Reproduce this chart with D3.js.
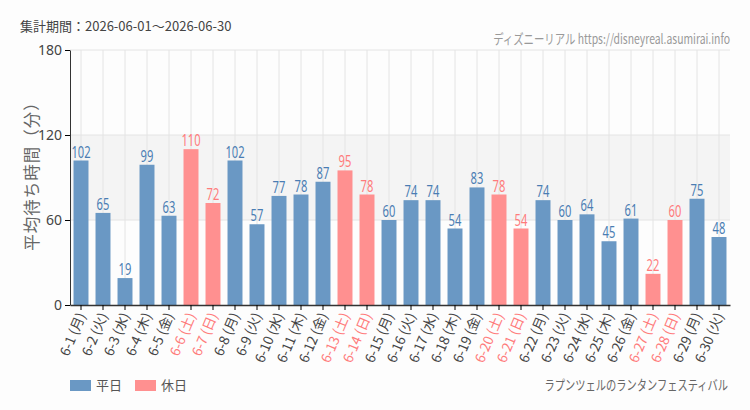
<!DOCTYPE html>
<html><head><meta charset="utf-8">
<script src="https://cdn.jsdelivr.net/npm/d3@7"></script>
<style>
body{margin:0;background:#fdfdfd;}
svg{display:block;font-family:"Noto Sans CJK JP","Noto Sans",sans-serif;}
</style></head>
<body><svg id="c" width="750" height="410"></svg>
<script>
const dates = ["6-1","6-2","6-3","6-4","6-5","6-6","6-7","6-8","6-9","6-10","6-11","6-12","6-13","6-14","6-15","6-16","6-17","6-18","6-19","6-20","6-21","6-22","6-23","6-24","6-25","6-26","6-27","6-28","6-29","6-30"];
const weekdays = ["月","火","水","木","金","土","日","月","火","水","木","金","土","日","月","火","水","木","金","土","日","月","火","水","木","金","土","日","月","火"];
const holiday = [0,0,0,0,0,1,1,0,0,0,0,0,1,1,0,0,0,0,0,1,1,0,0,0,0,0,1,1,0,0];
const values = [102,65,19,99,63,110,72,102,57,77,78,87,95,78,60,74,74,54,83,78,54,74,60,64,45,61,22,60,75,48];
const yTicks = [0,60,120,180];
const title = "集計期間：2026-06-01～2026-06-30";
const credit = "ディズニーリアル https://disneyreal.asumirai.info";
const attraction = "ラプンツェルのランタンフェスティバル";
const yLabel = "平均待ち時間（分）";
const legendNames = ["平日","休日"];

const blue="#6a98c4", blueText="#4a7db3", pink="#ff9090", pinkText="#ff7b7b";
const svg = d3.select("#c");
const L=70,R=730,T=50,B=305;
const x = d3.scaleBand().domain(dates).range([L,R]).paddingInner(0.32).paddingOuter(0.16);
const y = d3.scaleLinear().domain([0,180]).range([B,T]);

svg.append("rect").attr("x",L).attr("y",y(120)).attr("width",R-L).attr("height",y(60)-y(120)).attr("fill","#f4f4f4");
svg.append("g").selectAll("line").data(dates).join("line")
  .attr("x1",d=>x(d)+x.bandwidth()/2).attr("x2",d=>x(d)+x.bandwidth()/2)
  .attr("y1",T).attr("y2",B).attr("stroke","#e4e4e4");
svg.append("g").selectAll("line").data(yTicks.slice(1)).join("line")
  .attr("x1",L).attr("x2",R).attr("y1",d=>y(d)).attr("y2",d=>y(d)).attr("stroke","#e4e4e4");

svg.append("g").selectAll("rect").data(values).join("rect")
  .attr("x",(d,i)=>x(dates[i])).attr("y",d=>y(d)).attr("width",x.bandwidth()).attr("height",d=>B-y(d))
  .attr("fill",(d,i)=>holiday[i]?pink:blue);
svg.append("g").selectAll("text").data(values).join("text")
  .attr("transform",(d,i)=>`translate(${x(dates[i])+x.bandwidth()/2},${y(d)-3}) scale(0.72,1)`)
  .attr("text-anchor","middle").attr("font-family","'Noto Sans',sans-serif")
  .attr("font-size",15.5).attr("fill",(d,i)=>holiday[i]?pinkText:blueText).text(d=>d);

const ya = svg.append("g").attr("transform",`translate(${L},0)`).call(d3.axisLeft(y).tickValues(yTicks).tickSize(5).tickSizeOuter(0));
ya.select(".domain").attr("stroke","#333");
ya.selectAll("text").attr("font-size",14).attr("fill","#444").attr("font-family","'Noto Sans',sans-serif");
const xa = svg.append("g").attr("transform",`translate(0,${B})`).call(d3.axisBottom(x).tickSize(5).tickSizeOuter(0).tickFormat((d,i)=>`${d} (${weekdays[i]})`));
xa.select(".domain").attr("stroke","#333").attr("stroke-width",1.5);
xa.selectAll("text").attr("font-size",13.5).attr("font-family","'Noto Sans CJK JP',sans-serif")
  .attr("fill",(d,i)=>holiday[i]?pinkText:"#444")
  .attr("text-anchor","end").attr("transform","rotate(-67)").attr("dx","-0.4em").attr("dy","0.35em").attr("y",4).attr("x",-2);

svg.append("text").attr("transform",`translate(38,172) rotate(-90)`).attr("text-anchor","middle")
  .attr("font-size",16.5).attr("letter-spacing",1).attr("fill","#666").text(yLabel);

svg.append("text").attr("x",20).attr("y",31).attr("font-size",13).attr("fill","#444").text(title);
svg.append("text").attr("transform",`translate(${R},44) scale(0.77,1)`).attr("text-anchor","end").attr("font-size",13.5).attr("fill","#999")
  .text(credit);
svg.append("text").attr("transform",`translate(${R-2},390) scale(0.76,1)`).attr("text-anchor","end").attr("font-size",13.5).attr("fill","#666").text(attraction);

const lg = svg.append("g").selectAll("g").data(legendNames).join("g").attr("transform",(d,i)=>`translate(${70+i*65},380)`);
lg.append("rect").attr("width",21).attr("height",11).attr("fill",(d,i)=>i?pink:blue);
lg.append("text").attr("x",26).attr("y",10).attr("font-size",13).attr("fill","#555").text(d=>d);
</script></body></html>
